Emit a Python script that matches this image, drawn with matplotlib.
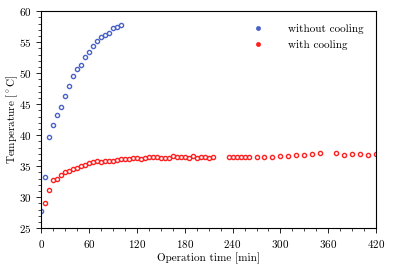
import matplotlib
matplotlib.use("Agg")
import matplotlib.pyplot as plt
from matplotlib.ticker import MultipleLocator
from matplotlib.lines import Line2D

# without cooling (every 5 min)
t_nocool = [0, 5, 10, 15, 20, 25, 30, 35, 40, 45, 50, 55, 60, 65, 70, 75, 80, 85, 90, 95, 100]
T_nocool = [27.8, 33.2, 39.7, 41.6, 43.2, 44.6, 46.4, 47.9, 49.5, 50.7, 51.4, 52.7, 53.4, 54.4,
            55.2, 55.8, 56.1, 56.5, 57.3, 57.5, 57.8]

# with cooling
t_cool = [5, 10, 15, 20, 25, 30, 35, 40, 45, 50, 55, 60, 65, 70, 75, 80, 85, 90, 95, 100,
          105, 110, 115, 120, 125, 130, 135, 140, 145, 150, 155, 160, 165, 170, 175, 180,
          185, 190, 195, 200, 205, 210, 215, 235, 240, 245, 250, 255, 260, 270, 280, 290,
          300, 310, 320, 330, 340, 350, 370, 380, 390, 400, 410, 420]
T_cool = [29.0, 31.2, 32.8, 32.9, 33.6, 34.0, 34.3, 34.5, 34.7, 35.0, 35.2, 35.5, 35.7, 35.9,
          35.7, 35.8, 35.8, 35.9, 36.0, 36.1, 36.1, 36.1, 36.3, 36.3, 36.2, 36.3, 36.4, 36.4,
          36.4, 36.3, 36.3, 36.3, 36.6, 36.4, 36.4, 36.5, 36.3, 36.6, 36.3, 36.4, 36.4, 36.3,
          36.4, 36.5, 36.4, 36.5, 36.5, 36.4, 36.4, 36.4, 36.5, 36.4, 36.6, 36.6, 36.75,
          36.85, 36.95, 37.15, 37.05, 36.85, 36.95, 36.95, 36.85, 36.95]

plt.rcParams["font.family"] = "serif"
plt.rcParams["font.serif"] = ["cmr10", "DejaVu Serif"]
plt.rcParams["mathtext.fontset"] = "cm"
plt.rcParams["axes.formatter.use_mathtext"] = True

fig, ax = plt.subplots(figsize=(3.93, 2.69), dpi=100)
fig.subplots_adjust(left=0.105, right=0.957, top=0.958, bottom=0.152)

blue = "#4a62c8"
red = "#ff2020"
ax.plot(t_nocool, T_nocool, "o", ms=3.0, mfc="none", mec=blue, mew=1.0)
ax.plot(t_cool, T_cool, "o", ms=3.0, mfc="none", mec=red, mew=1.0)

ax.set_xlim(0, 420)
ax.set_ylim(25, 60)
ax.xaxis.set_major_locator(MultipleLocator(60))
ax.xaxis.set_minor_locator(MultipleLocator(15))
ax.yaxis.set_major_locator(MultipleLocator(5))
ax.yaxis.set_minor_locator(MultipleLocator(1))
ax.tick_params(which="both", direction="out", labelsize=8)
ax.tick_params(which="major", length=3.5, width=0.6)
ax.tick_params(which="minor", length=2, width=0.5)
for s in ax.spines.values():
    s.set_linewidth(0.8)

ax.set_xlabel("Operation time [min]", fontsize=8, labelpad=2)
ax.set_ylabel(r"Temperature [$^\circ$C]", fontsize=8, labelpad=-1)

handles = [Line2D([], [], ls="none", marker="o", ms=2.5, color=blue),
           Line2D([], [], ls="none", marker="o", ms=2.5, color=red)]
ax.legend(handles, ["without cooling", "with cooling"], loc="upper right", frameon=False,
          fontsize=8, handlelength=1.0, handletextpad=2.2, borderaxespad=0.7,
          labelspacing=0.55)

fig.savefig("out.png", dpi=100)
